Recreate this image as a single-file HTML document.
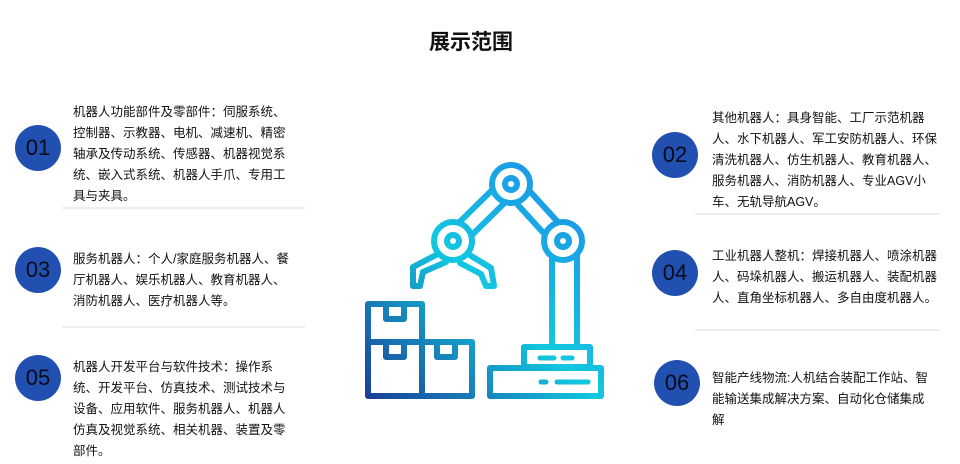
<!DOCTYPE html>
<html><head><meta charset="utf-8"><style>
body{margin:0;background:#fff;}
#w{position:relative;width:960px;height:464px;overflow:hidden;font-family:"Liberation Sans","Noto Sans CJK SC",sans-serif;}
.t{position:absolute;left:0;top:26px;width:942px;text-align:center;font-size:21px;font-weight:bold;color:#111;}
.c{position:absolute;width:46px;height:46px;border-radius:50%;background:#2150b0;color:#0a0a1a;font-size:22px;line-height:46px;text-align:center;}
.x{position:absolute;font-size:12.5px;line-height:21px;color:#111;white-space:nowrap;}
.s{position:absolute;height:2px;background:#eeeeee;}
</style></head><body><div id="w">
<div class="t">展示范围</div>

<div class="c" style="left:15px;top:125px">01</div>
<div class="x" style="left:73px;top:102px">机器人功能部件及零部件：伺服系统、<br>控制器、示教器、电机、减速机、精密<br>轴承及传动系统、传感器、机器视觉系<br>统、嵌入式系统、机器人手爪、专用工<br>具与夹具。</div>
<div class="s" style="left:62px;top:207px;width:243px"></div>

<div class="c" style="left:15px;top:247px">03</div>
<div class="x" style="left:73px;top:249px">服务机器人：个人/家庭服务机器人、餐<br>厅机器人、娱乐机器人、教育机器人、<br>消防机器人、医疗机器人等。</div>
<div class="s" style="left:62px;top:326px;width:243px"></div>

<div class="c" style="left:15px;top:355px">05</div>
<div class="x" style="left:73px;top:357px">机器人开发平台与软件技术：操作系<br>统、开发平台、仿真技术、测试技术与<br>设备、应用软件、服务机器人、机器人<br>仿真及视觉系统、相关机器、装置及零<br>部件。</div>

<div class="c" style="left:652px;top:132px">02</div>
<div class="x" style="left:712px;top:108px">其他机器人：具身智能、工厂示范机器<br>人、水下机器人、军工安防机器人、环保<br>清洗机器人、仿生机器人、教育机器人、<br>服务机器人、消防机器人、专业AGV小<br>车、无轨导航AGV。</div>
<div class="s" style="left:695px;top:213px;width:245px"></div>

<div class="c" style="left:652px;top:250px">04</div>
<div class="x" style="left:712px;top:246px">工业机器人整机：焊接机器人、喷涂机器<br>人、码垛机器人、搬运机器人、装配机器<br>人、直角坐标机器人、多自由度机器人。</div>
<div class="s" style="left:695px;top:329px;width:245px"></div>

<div class="c" style="left:654px;top:360px">06</div>
<div class="x" style="left:712px;top:368px">智能产线物流:人机结合装配工作站、智<br>能输送集成解决方案、自动化仓储集成<br>解</div>

<svg style="position:absolute;left:0;top:0" width="960" height="464">
<defs><linearGradient id="g" gradientUnits="userSpaceOnUse" x1="370" y1="400" x2="590" y2="170">
<stop offset="0" stop-color="#1a3f98"/><stop offset="0.5" stop-color="#12c8df"/><stop offset="1" stop-color="#2088ea"/></linearGradient></defs>
<g stroke="url(#g)" fill="none" stroke-width="6" stroke-linejoin="round" stroke-linecap="round">
<line x1="453" y1="241" x2="511" y2="184" stroke-width="24"/>
<line x1="453" y1="241" x2="511" y2="184" stroke="#fff" stroke-width="12"/>
<line x1="563" y1="241" x2="511" y2="184" stroke-width="24"/>
<line x1="563" y1="241" x2="511" y2="184" stroke="#fff" stroke-width="12"/>
<rect x="552" y="255" width="25" height="92" fill="#fff"/>
<path d="M438 254 L413 267 L413 286 L420 286 L423 272 L446 262" fill="#fff"/>
<path d="M468 254 L491 268 L494 286 L486 286 L481 274 L460 263" fill="#fff"/>
<circle cx="511" cy="184" r="19" fill="#fff"/><circle cx="511" cy="184" r="6"/>
<circle cx="453" cy="241" r="19" fill="#fff"/><circle cx="453" cy="241" r="6"/>
<circle cx="563" cy="241" r="19" fill="#fff"/><circle cx="563" cy="241" r="6"/>
<rect x="524" y="347" width="66" height="20" fill="#fff"/>
<rect x="490" y="368" width="111" height="28" fill="#fff"/>
<line x1="540" y1="358" x2="554" y2="358" stroke-width="5"/><line x1="563" y1="358" x2="572" y2="358" stroke-width="5"/>
<line x1="541" y1="382" x2="546" y2="382" stroke-width="5"/><line x1="557" y1="382" x2="588" y2="382" stroke-width="5"/>
<rect x="368" y="304" width="54" height="38"/>
<rect x="368" y="342" width="54" height="54"/>
<rect x="422" y="342" width="50" height="54"/>
<path d="M386 304 V319 H404 V304"/>
<path d="M386 342 V357 H404 V342"/>
<path d="M437 342 V357 H455 V342"/>
</g></svg>
</div></body></html>
